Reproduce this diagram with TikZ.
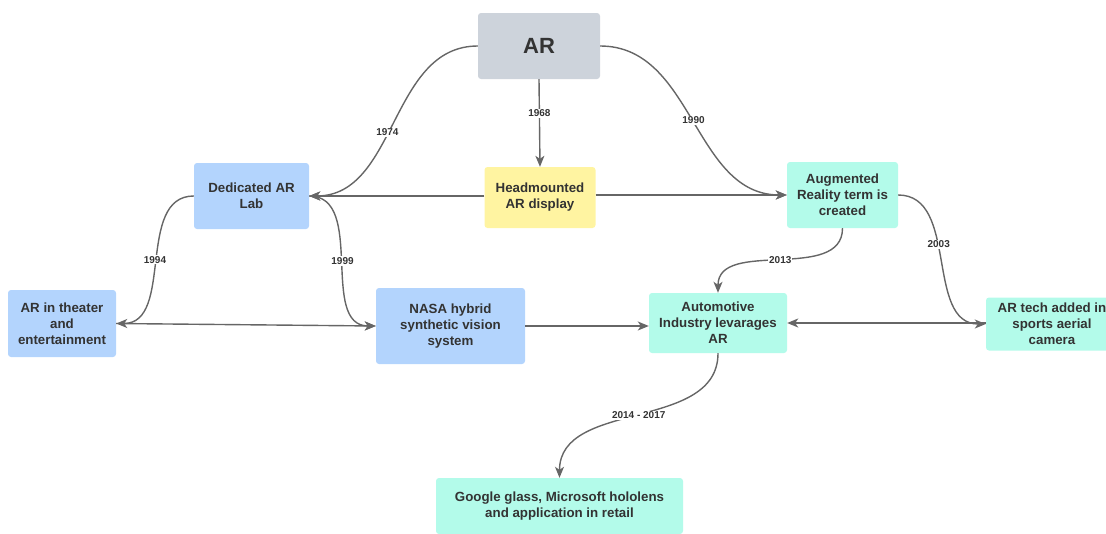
\documentclass[tikz,border=0pt]{standalone}
\usepackage{fontspec}
\setmainfont{Liberation Sans}
\usetikzlibrary{positioning, arrows.meta}

\definecolor{argray}{HTML}{CDD3DB}
\definecolor{arblue}{HTML}{B3D4FD}
\definecolor{aryellow}{HTML}{FFF4A1}
\definecolor{arteal}{HTML}{B3FBEA}
\definecolor{artext}{HTML}{333333}
\definecolor{arline}{HTML}{666666}

\begin{document}
\begin{tikzpicture}[x=1pt, y=1pt]

    \tikzstyle{block} = [rectangle, rounded corners=3pt, align=center, inner sep=0pt, text=artext, font=\fontsize{13.3}{16}\selectfont\bfseries]
    \tikzstyle{arrow} = [line width=1.4pt, draw=arline, -{Stealth[length=11pt, width=9pt, inset=3pt]}]
    \tikzstyle{year} = [fill=white, inner sep=1pt, text=artext, font=\fontsize{10}{12}\selectfont\bfseries]

    \useasboundingbox (0,0) rectangle (1106,-533);

    \node[block, fill=argray, minimum width=122, minimum height=66, font=\fontsize{22}{26}\selectfont\bfseries] (ar) at (539,-46) {AR};
    \node[block, fill=arblue, minimum width=115, minimum height=66] (lab) at (251.5,-196) {Dedicated AR\\Lab};
    \node[block, fill=aryellow, minimum width=111, minimum height=61] (headmounted) at (540,-197.5) {Headmounted\\AR display};
    \node[block, fill=arteal, minimum width=111, minimum height=66] (term) at (842.5,-195) {Augmented\\Reality term is\\created};
    \node[block, fill=arblue, minimum width=108, minimum height=67] (theater) at (62,-323.5) {AR in theater\\and\\entertainment};
    \node[block, fill=arblue, minimum width=149, minimum height=76] (nasa) at (450.5,-326) {NASA hybrid\\synthetic vision\\system};
    \node[block, fill=arteal, minimum width=138, minimum height=60] (automotive) at (718,-323) {Automotive\\Industry levarages\\AR};
    \node[block, fill=arteal, minimum width=132, minimum height=53] (sports) at (1052,-324) {AR tech added in\\sports aerial\\camera};
    \node[block, fill=arteal, minimum width=247, minimum height=56] (glass) at (559.5,-506) {Google glass, Microsoft hololens\\and application in retail};

    \draw[arrow] (ar.south) -- node[year, pos=0.39] {1968} (headmounted.north);
    \draw[arrow] (ar.west) to[out=180, in=0] node[year, pos=0.55] {1974} (lab.east);
    \draw[arrow] (ar.east) to[out=0, in=180] node[year] {1990} (term.west);
    \draw[arrow] (headmounted.west |- lab.east) -- (lab.east);
    \draw[arrow] (headmounted.east |- term.west) -- (term.west);
    \draw[arrow] (lab.west) to[out=180, in=0] node[year] {1994} (theater.east);
    \draw[arrow] (lab.east) to[out=0, in=180] node[year] {1999} (nasa.west);
    \draw[arrow] (theater.east) -- (nasa.west);
    \draw[arrow] (nasa.east) -- (nasa.east -| automotive.west);
    \draw[arrow] (term.south) to[out=-90, in=90] node[year] {2013} (automotive.north);
    \draw[arrow] (term.east) to[out=0, in=180] node[year, pos=0.42] {2003} (sports.west);
    \draw[arrow] (sports.west |- automotive.east) -- (automotive.east);
    \draw[arrow] (automotive.south) to[out=-90, in=90] node[year] {2014 - 2017} (glass.north);

\end{tikzpicture}
\end{document}
